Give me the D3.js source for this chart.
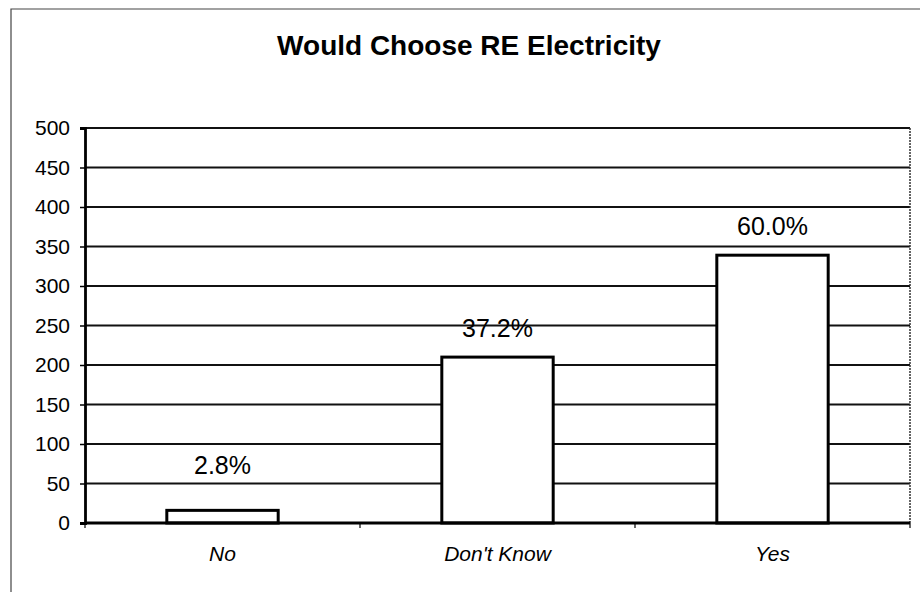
<!DOCTYPE html>
<html>
<head>
<meta charset="utf-8">
<script src="https://cdn.jsdelivr.net/npm/d3@7"></script>
<style>
  html, body { margin: 0; padding: 0; background: #fff; }
  svg { display: block; font-family: Arial, "Liberation Sans", sans-serif; }
</style>
</head>
<body>
<svg id="chart" width="920" height="592"></svg>
<script>
// 数据
var categories = ['No', "Don't Know", 'Yes']
var counts = [16, 210, 339]
var pctLabels = ['2.8%', '37.2%', '60.0%']
var yTicks = [0, 50, 100, 150, 200, 250, 300, 350, 400, 450, 500]
var title = 'Would Choose RE Electricity'

var svg = d3.select('#chart')
var plotLeft = 85, plotRight = 910, plotTop = 128, plotBottom = 523

// 外框
svg.append('path')
  .attr('d', 'M11,600 V9 H925')
  .attr('fill', 'none')
  .attr('stroke', '#444')
  .attr('stroke-width', 1.2)

// 标题
svg.append('text')
  .attr('x', 469)
  .attr('y', 55)
  .attr('text-anchor', 'middle')
  .attr('font-size', 28)
  .attr('font-weight', 'bold')
  .text(title)

var x = d3.scaleBand().domain(categories).range([plotLeft, plotRight]).padding(0)
var y = d3.scaleLinear().domain([0, 500]).range([plotBottom, plotTop])

// 网格线
svg.append('g')
  .selectAll('line')
  .data(yTicks.filter((t) => t > 0))
  .join('line')
  .attr('x1', plotLeft)
  .attr('x2', plotRight)
  .attr('y1', (d) => y(d))
  .attr('y2', (d) => y(d))
  .attr('stroke', '#111')
  .attr('stroke-width', 2)

// 右边框
svg.append('line')
  .attr('x1', plotRight).attr('x2', plotRight)
  .attr('y1', plotTop).attr('y2', plotBottom)
  .attr('stroke', '#333')
  .attr('stroke-width', 1.5)
  .attr('stroke-dasharray', '2,1')

// y轴
var yAxis = d3.axisLeft(y).tickValues(yTicks).tickSize(5).tickPadding(10)
var gy = svg.append('g').attr('transform', `translate(${plotLeft},0)`).call(yAxis)
gy.select('.domain').attr('stroke', '#000').attr('stroke-width', 2.8)
gy.selectAll('.tick line').attr('stroke', '#000').attr('stroke-width', 1.5)
gy.selectAll('.tick text')
  .attr('font-size', 21)
  .attr('fill', '#000')
  .attr('font-family', 'Arial, "Liberation Sans", sans-serif')

// 柱子
var barW = x.bandwidth() * 0.405
svg.append('g')
  .selectAll('rect')
  .data(categories)
  .join('rect')
  .attr('x', (d) => x(d) + x.bandwidth() / 2 - barW / 2)
  .attr('y', (d, i) => y(counts[i]))
  .attr('width', barW)
  .attr('height', (d, i) => y(0) - y(counts[i]))
  .attr('fill', '#fff')
  .attr('stroke', '#000')
  .attr('stroke-width', 3)

// x轴
svg.append('line')
  .attr('x1', plotLeft).attr('x2', plotRight)
  .attr('y1', plotBottom).attr('y2', plotBottom)
  .attr('stroke', '#000')
  .attr('stroke-width', 2.8)

svg.append('g')
  .selectAll('line')
  .data(categories.concat(['end']))
  .join('line')
  .attr('x1', (d, i) => plotLeft + i * x.step())
  .attr('x2', (d, i) => plotLeft + i * x.step())
  .attr('y1', plotBottom)
  .attr('y2', plotBottom + 5)
  .attr('stroke', '#000')
  .attr('stroke-width', 1.2)

svg.append('g')
  .selectAll('text')
  .data(categories)
  .join('text')
  .attr('x', (d) => x(d) + x.bandwidth() / 2)
  .attr('y', 561)
  .attr('text-anchor', 'middle')
  .attr('font-size', 21)
  .attr('font-style', 'italic')
  .text((d) => d)

// 数据标签
svg.append('g')
  .selectAll('text')
  .data(pctLabels)
  .join('text')
  .attr('x', (d, i) => x(categories[i]) + x.bandwidth() / 2)
  .attr('y', (d, i) => Math.min(y(counts[i]), y(37)) - 20)
  .attr('text-anchor', 'middle')
  .attr('font-size', 25)
  .text((d) => d)
</script>
</body>
</html>
